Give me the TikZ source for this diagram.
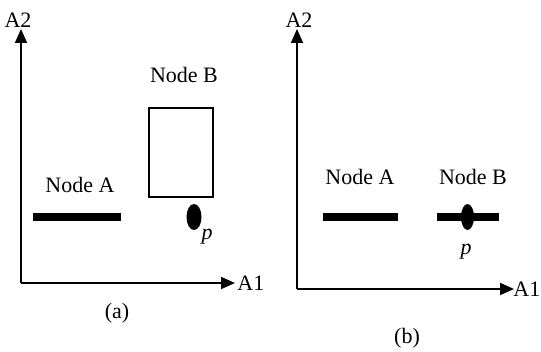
\documentclass[tikz,border=0pt]{standalone}
\usepackage{fontspec}
\setmainfont{Liberation Serif}
\usetikzlibrary{positioning,arrows.meta,shapes.geometric}

\begin{document}
\begin{tikzpicture}[
  x=0.5pt, y=-0.5pt,
  font=\fontsize{11}{13}\selectfont,
  axis/.style={line width=0.9pt, -{Triangle[length=7pt,width=6pt]}},
  bar/.style={fill=black, inner sep=0pt, minimum height=4pt},
  pdot/.style={ellipse, fill=black, inner sep=0pt},
  box/.style={draw, line width=0.8pt, inner sep=0pt, minimum width=32pt, minimum height=44.5pt},
  lbl/.style={inner sep=0pt}
]
\useasboundingbox (0,0) rectangle (541,352);
% (a)
\coordinate (oa) at (21,283);
\coordinate (ya) at (21,29);
\coordinate (xa) at (235,283);
\draw[axis] (oa) -- (ya);
\draw[axis] (oa) -- (xa);
\node[lbl, anchor=south] (a2a) at (18,28) {A2};
\node[lbl, right=1pt of xa] (a1a) {A1};
\node (capa) at (117,313) {(a)};
\node[bar, minimum width=44pt] (barA) at (77,217) {};
\node (labA) at (80,185) {Node A};
\node[box] (boxB) at (181,152.5) {};
\node (labB) at (184,75) {Node B};
\node[pdot, minimum width=7.5pt, minimum height=13pt] (pa) at (194,217) {};
\node[lbl] (pla) at (207,237) {\textit{p}};
% (b)
\coordinate (ob) at (297,289);
\coordinate (yb) at (297,29);
\coordinate (xb) at (514,289);
\draw[axis] (ob) -- (yb);
\draw[axis] (ob) -- (xb);
\node[lbl, anchor=south] (a2b) at (299,28) {A2};
\node[lbl, right=0pt of xb, xshift=-0.5pt] (a1b) {A1};
\node (capb) at (407,338) {(b)};
\node[bar, minimum width=37.5pt] (barA2) at (360.5,217) {};
\node (labA2) at (360,177) {Node A};
\node[bar, minimum width=31pt] (barB2) at (468,217) {};
\node (labB2) at (473,177) {Node B};
\node[pdot, minimum width=6.5pt, minimum height=13pt] (pb) at (467.5,217) {};
\node[lbl] (plb) at (466,252) {\textit{p}};
\end{tikzpicture}
\end{document}
